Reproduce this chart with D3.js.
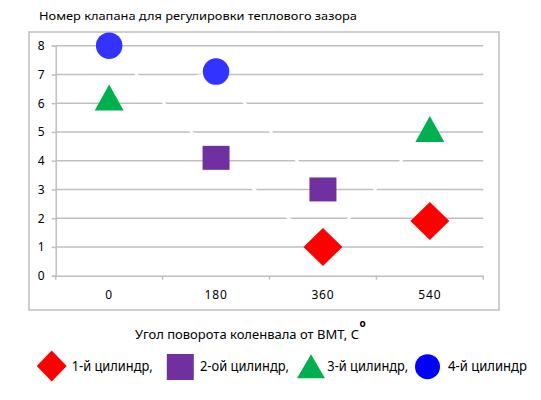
<!DOCTYPE html>
<html>
<head>
<meta charset="utf-8">
<script src="https://cdn.jsdelivr.net/npm/d3@7"></script>
<style>
  body { margin: 0; background: #fff; }
  text { font-family: "Noto Sans", "DejaVu Sans", sans-serif; fill: #000; }
</style>
</head>
<body>
<div id="chart"></div>
<script>
// categories on the x axis: crank angle from TDC
var categories = ['0', '180', '360', '540'];
var yTicks = [0, 1, 2, 3, 4, 5, 6, 7, 8];

// two (white) lines, each point belongs to a cylinder
var lineOneValves = [8, 4.1, 1, 5.1];
var lineOneCylinders = [4, 2, 1, 3];
var lineTwoValves = [6.2, 7.1, 3, 1.9];
var lineTwoCylinders = [3, 4, 2, 1];

var cylinderNames = ['1-й цилиндр,', '2-ой цилиндр,', '3-й цилиндр,', '4-й цилиндр'];

var chartTitle = 'Номер клапана для регулировки теплового зазора';
var xTitle = 'Угол поворота коленвала от ВМТ, С';

// styles per cylinder
var cylShapes = ['diamond', 'square', 'triangle', 'circle'];
var cylColors = ['#ff0000', '#7030a0', '#00b050', '#3333ff'];
var legendColors = ['#ff0000', '#7030a0', '#00b050', '#0000ff'];

var width = 541, height = 400;
var grid = '#bfbfbf';

var svg = d3.select('#chart').append('svg')
  .attr('width', width)
  .attr('height', height);

var x = d3.scaleBand().domain(categories).range([55.7, 483.3]).padding(0);
var y = d3.scaleLinear().domain([0, 8]).range([275.7, 45.7]);

// outer chart box
svg.append('rect')
  .attr('x', 29).attr('y', 32)
  .attr('width', 470).attr('height', 278)
  .attr('fill', 'none')
  .attr('stroke', grid)
  .attr('stroke-width', 1.5);

// title
svg.append('text')
  .attr('x', 39).attr('y', 20)
  .attr('font-size', 11)
  .attr('textLength', 318)
  .attr('lengthAdjust', 'spacingAndGlyphs')
  .text(chartTitle);

// horizontal gridlines
svg.append('g').selectAll('line')
  .data(yTicks.filter(function (d) { return d > 0; }))
  .enter().append('line')
  .attr('x1', x.range()[0]).attr('x2', x.range()[1])
  .attr('y1', function (d) { return y(d); })
  .attr('y2', function (d) { return y(d); })
  .attr('stroke', grid)
  .attr('stroke-width', 1.5);

// y axis
var yAxis = svg.append('g')
  .attr('transform', 'translate(' + x.range()[0] + ',0)')
  .call(d3.axisLeft(y).tickValues(yTicks).tickSize(4).tickPadding(7));
yAxis.select('.domain').attr('stroke', grid).attr('stroke-width', 1.5);
yAxis.selectAll('.tick line').attr('stroke', grid).attr('stroke-width', 1.5);
yAxis.selectAll('.tick text').attr('font-size', 12).attr('fill', '#000')
  .style('font-family', '"Noto Sans", sans-serif');

// x axis: labels centred, tick marks between categories
var xAxis = svg.append('g')
  .attr('transform', 'translate(0,' + y(0) + ')')
  .call(d3.axisBottom(x).tickSize(0).tickPadding(15));
xAxis.select('.domain').attr('stroke', grid).attr('stroke-width', 1.5);
xAxis.selectAll('.tick text').attr('font-size', 12).attr('fill', '#000')
  .attr('letter-spacing', 0.8)
  .style('font-family', '"Noto Sans", sans-serif');

var bounds = categories.map(function (c) { return x(c); }).concat([x.range()[1]]);
svg.append('g').selectAll('line')
  .data(bounds)
  .enter().append('line')
  .attr('x1', function (d) { return d; }).attr('x2', function (d) { return d; })
  .attr('y1', y(0)).attr('y2', y(0) + 4)
  .attr('stroke', grid)
  .attr('stroke-width', 1.5);

// x axis title with superscript degree "o"
svg.append('text')
  .attr('x', 135).attr('y', 339.3)
  .attr('font-size', 12.5)
  .attr('textLength', 224)
  .attr('lengthAdjust', 'spacingAndGlyphs')
  .text(xTitle);
svg.append('text')
  .attr('x', 359.5).attr('y', 327)
  .attr('font-size', 10)
  .attr('font-weight', 'bold')
  .text('o');

// white series lines (they only show where they cut the gridlines)
var line = d3.line()
  .x(function (d, i) { return x(categories[i]) + x.bandwidth() / 2; })
  .y(function (d) { return y(d); });

[lineOneValves, lineTwoValves].forEach(function (vals) {
  svg.append('path')
    .datum(vals)
    .attr('d', line)
    .attr('fill', 'none')
    .attr('stroke', '#fff')
    .attr('stroke-width', 2.5);
});

// marker path, centred on its bounding box
function shapePath(shape, w, h) {
  var p = d3.path();
  if (shape === 'diamond') {
    p.moveTo(0, -h / 2); p.lineTo(w / 2, 0); p.lineTo(0, h / 2); p.lineTo(-w / 2, 0); p.closePath();
  } else if (shape === 'square') {
    p.rect(-w / 2, -h / 2, w, h);
  } else if (shape === 'triangle') {
    p.moveTo(0, -h / 2); p.lineTo(w / 2, h / 2); p.lineTo(-w / 2, h / 2); p.closePath();
  } else {
    p.arc(0, 0, w / 2, 0, 2 * Math.PI);
  }
  return p.toString();
}

var markerSize = {
  diamond: [39, 38],
  square: [27, 24],
  triangle: [29, 26],
  circle: [26.5, 26.5]
};

var points = [];
lineOneValves.forEach(function (v, i) { points.push({ cat: categories[i], value: v, cyl: lineOneCylinders[i] }); });
lineTwoValves.forEach(function (v, i) { points.push({ cat: categories[i], value: v, cyl: lineTwoCylinders[i] }); });

svg.append('g').selectAll('path')
  .data(points)
  .enter().append('path')
  .attr('transform', function (d) {
    return 'translate(' + (x(d.cat) + x.bandwidth() / 2) + ',' + y(d.value) + ')';
  })
  .attr('d', function (d) {
    var s = cylShapes[d.cyl - 1];
    return shapePath(s, markerSize[s][0], markerSize[s][1]);
  })
  .attr('fill', function (d) { return cylColors[d.cyl - 1]; });

// legend
var legendSymbolX = [51.7, 180.3, 311, 427.5];
var legendSymbolY = [366, 367, 366.3, 366.7];
var legendSymbolSize = [[30, 31], [27, 26], [28, 24], [25, 25]];
var legendTextX = [71.7, 200, 327.3, 448];
var legendTextW = [81, 89, 81, 79];

var legend = svg.append('g').selectAll('g')
  .data(cylinderNames)
  .enter().append('g');

legend.append('path')
  .attr('transform', function (d, i) { return 'translate(' + legendSymbolX[i] + ',' + legendSymbolY[i] + ')'; })
  .attr('d', function (d, i) { return shapePath(cylShapes[i], legendSymbolSize[i][0], legendSymbolSize[i][1]); })
  .attr('fill', function (d, i) { return legendColors[i]; });

legend.append('text')
  .attr('x', function (d, i) { return legendTextX[i]; })
  .attr('y', 371)
  .attr('font-size', 14)
  .attr('textLength', function (d, i) { return legendTextW[i]; })
  .attr('lengthAdjust', 'spacingAndGlyphs')
  .text(function (d) { return d; });
</script>
</body>
</html>
